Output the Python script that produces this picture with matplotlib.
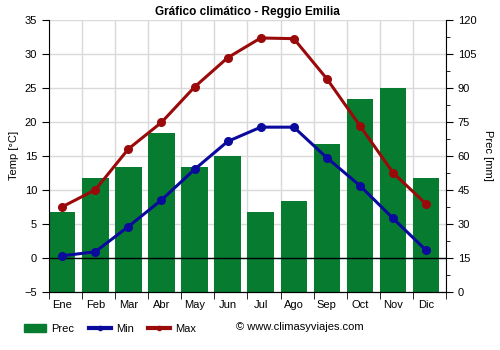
#!/usr/bin/env python3
import numpy as np
from matplotlib import pyplot as plt
from matplotlib.lines import Line2D
from matplotlib.patches import Patch

meses = ['Ene', 'Feb', 'Mar', 'Abr', 'May', 'Jun',
         'Jul', 'Ago', 'Sep', 'Oct', 'Nov', 'Dic']
prec = [35, 50, 55, 70, 55, 60, 35, 40, 65, 85, 90, 50]
t_min = [0.3, 0.9, 4.6, 8.5, 13.0, 17.1, 19.2, 19.2, 14.7, 10.6, 5.8, 1.1]
t_max = [7.5, 10.0, 16.0, 19.9, 25.1, 29.4, 32.3, 32.2, 26.3, 19.4, 12.5, 7.9]

verde = '#077b30'
azul = '#0a0a9c'
rojo = '#9b0a0a'


def main():
    plt.rcParams['font.family'] = ['Liberation Sans', 'DejaVu Sans']
    fig = plt.figure(figsize=(5, 3.5), dpi=100)
    ax = fig.add_axes([0.098, 0.166, 0.794, 0.778])
    ax2 = ax.twinx()

    x = np.arange(len(meses)) - 0.1

    # precipitation bars on the right scale (0 mm sits at -5 °C)
    ax2.bar(x, prec, width=0.8, color=verde, zorder=2)
    ax2.set_ylim(0, 120)
    ax2.set_yticks(np.arange(0, 121, 15))
    ax2.set_yticks(np.arange(7.5, 120, 15), minor=True)
    ax2.set_ylabel('Prec [mm]', fontsize=8, rotation=-90, labelpad=12)

    # temperatures on the left scale, drawn above the bars
    ax.set_zorder(ax2.get_zorder() + 1)
    ax.patch.set_visible(False)
    ax.plot(x, t_min, color=azul, lw=2.2, marker='o', ms=5.5, zorder=4)
    ax.plot(x, t_max, color=rojo, lw=2.2, marker='o', ms=5.5, zorder=4)
    ax.axhline(0, color='black', lw=1, zorder=3)
    ax.set_ylim(-5, 35)
    ax.set_yticks(np.arange(-5, 36, 5))
    ax.set_xlim(-0.5, 11.5)
    ax.set_xticks(x)
    ax.set_xticklabels(meses)
    ax.set_ylabel('Temp [°C]', fontsize=8)
    ax.set_title('Gráfico climático - Reggio Emilia', fontsize=8.5,
                 fontweight='bold', pad=3)

    # grid lines sit behind everything on the bar axes
    for y in np.arange(0, 121, 15):
        ax2.axhline(y, color='#d9d9d9', lw=1, zorder=0)
    for b in np.arange(-0.5, 12, 1):
        ax2.axvline(b, color='#d9d9d9', lw=1, zorder=0)
    ax.set_xticks(np.arange(-0.5, 12, 1), minor=True)
    ax.tick_params(axis='x', which='major', length=0, labelsize=8, pad=6)
    ax.tick_params(axis='x', which='minor', length=5)
    ax.tick_params(axis='y', labelsize=8, length=5)
    ax2.tick_params(axis='y', which='major', labelsize=8, length=5)
    ax2.tick_params(axis='y', which='minor', length=3)

    for a in (ax, ax2):
        a.spines['top'].set_visible(False)
    ax.spines['right'].set_visible(False)
    ax2.spines['left'].set_visible(False)

    handles = [Patch(color=verde),
               Line2D([], [], color=azul, lw=3, marker='o', ms=3),
               Line2D([], [], color=rojo, lw=3, marker='o', ms=3)]
    fig.legend(handles, ['Prec', 'Min', 'Max'], loc='lower left',
               bbox_to_anchor=(0.028, 0.017), ncol=3, frameon=False,
               fontsize=8, handlelength=2.0, columnspacing=1.3,
               handletextpad=0.45)
    fig.text(0.472, 0.065, '© www.climasyviajes.com', fontsize=8,
             va='center')

    fig.savefig('out.png')


if __name__ == '__main__':
    main()
